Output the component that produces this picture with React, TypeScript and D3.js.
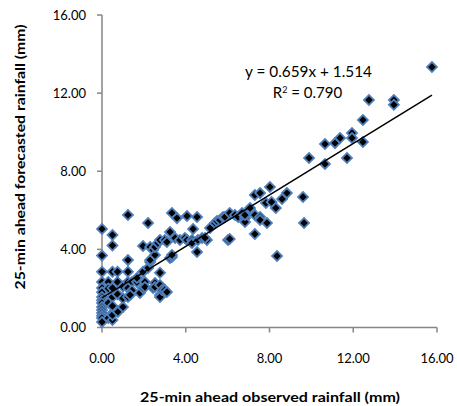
import React from "react";
import * as d3 from "d3";

const observed = [
  0, 0, 0, 0, 0, 0, 0, 0, 0, 0, 0, 0, 0, 0, 0,
  0.3, 0.3, 0.3, 0.3,
  0.5, 0.5, 0.5, 0.5, 0.5, 0.5, 0.5, 0.5, 0.5,
  0.74, 0.74, 0.76, 0.74,
  1.0, 1.0, 1.0,
  1.24, 1.24, 1.24, 1.24, 1.24, 1.24,
  1.43, 1.43, 1.67, 1.67, 1.34, 1.81,
  1.96, 1.96, 1.96, 2.05, 2.05,
  2.2, 2.2, 2.3, 2.3, 2.3, 2.44, 2.44,
  2.53, 2.53, 2.53, 2.53, 2.67,
  2.77, 2.77, 2.77, 2.77, 2.77, 2.87, 3.0, 3.0, 3.1, 3.1,
  3.25, 3.25, 3.34, 3.34, 3.34, 3.49, 3.58, 3.72, 3.96,
  4.06, 4.06, 4.3, 4.3, 4.35, 4.54, 4.54, 4.58, 4.78, 5.01, 4.92,
  5.16, 5.4, 5.49, 5.63, 5.78, 5.87, 6.02, 6.1, 6.1, 6.35, 6.5, 6.69,
  6.83, 6.83, 6.83, 7.07, 7.07, 7.3, 7.3, 7.3, 7.55, 7.55, 7.55,
  7.83, 7.88, 8.02, 8.1, 8.3, 8.36, 8.6, 8.83,
  9.6, 9.65, 9.89, 10.65, 10.65, 11.13, 11.37, 11.7, 11.94, 11.94,
  12.46, 12.46, 12.75, 13.94, 13.94, 15.76,
];

const forecasted = [
  5.04, 3.68, 2.85, 2.33, 2.02, 1.8, 1.56, 1.4, 1.25, 1.05, 0.9, 0.74, 0.6, 0.49, 0.28,
  2.33, 1.25, 0.49, 2.0,
  4.74, 4.2, 2.85, 2.02, 1.56, 0.74, 0.38, 0.64, 1.1,
  2.85, 2.33, 0.8, 1.7,
  1.05, 2.1, 1.5,
  5.76, 3.45, 2.85, 2.33, 2.02, 1.56,
  2.33, 1.9, 2.33, 2.53, 1.66, 1.77,
  4.17, 2.85, 2.02, 2.33, 2.07,
  5.35, 3.05, 4.12, 3.35, 3.45, 2.02, 3.97,
  3.71, 4.12, 2.28, 2.07, 4.33,
  4.48, 2.8, 2.18, 1.66, 1.56, 1.92, 4.48, 1.92, 4.38, 1.82,
  4.89, 3.56, 5.86, 3.61, 3.71, 4.58, 5.6, 4.48, 4.58,
  5.71, 4.48, 4.48, 4.33, 5.04, 5.66, 3.87, 4.48, 4.58, 4.48, 4.58,
  5.09, 5.35, 5.45, 5.5, 5.66, 5.66, 4.48, 5.86, 4.53, 5.76, 5.66, 5.86,
  5.6, 5.4, 5.76, 6.02, 6.12, 6.78, 4.79, 5.76, 6.88, 5.66, 5.5,
  6.37, 5.35, 7.19, 6.43, 6.12, 3.66, 6.58, 6.88,
  6.68, 5.35, 8.68, 9.39, 8.37, 9.44, 9.7, 8.68, 9.96, 9.7,
  10.62, 9.5, 11.65, 11.65, 11.4, 13.34,
];

const xTicks = [0, 4, 8, 12, 16];
const yTicks = [0, 4, 8, 12, 16];
const slope = 0.659;
const intercept = 1.514;
const equationLabel = "y = 0.659x + 1.514";
const r2Value = "0.790";
const xTitle = "25-min ahead observed rainfall (mm)";
const yTitle = "25-min ahead forecasted rainfall (mm)";

const W = 457;
const H = 406;

export default function App() {
  const x = d3.scaleLinear().domain([0, 16]).range([102, 437]);
  const y = d3.scaleLinear().domain([0, 16]).range([327.5, 15]);
  const points = observed.map((o, i) => [o, forecasted[i]] as [number, number]);
  const symbolPath = d3.symbol().type(d3.symbolSquare).size(50)() as string;
  const xMin = d3.min(observed) as number;
  const xMax = d3.max(observed) as number;
  const trend = d3
    .line<number>()
    .x((d) => x(d))
    .y((d) => y(slope * d + intercept))([xMin, xMax]) as string;
  const axisColor = "#868686";
  const font = "Lato, 'Open Sans', sans-serif";
  return (
    <svg
      width={W}
      height={H}
      style={{ position: "absolute", left: 0, top: 0, background: "#fff" }}
      fontFamily={font}
    >
      <rect width={W} height={H} fill="#fff" />
      {/* axes */}
      <line x1={x(0)} x2={x(0)} y1={y(16)} y2={y(0)} stroke={axisColor} strokeWidth={1.5} />
      <line x1={x(0)} x2={x(16)} y1={y(0)} y2={y(0)} stroke={axisColor} strokeWidth={1.5} />
      {yTicks.map((t) => (
        <g key={"y" + t}>
          <line x1={x(0) - 5} x2={x(0)} y1={y(t)} y2={y(t)} stroke={axisColor} strokeWidth={1.5} />
          <text x={86} y={y(t)} dy="0.35em" textAnchor="end" fontSize={13} fill="#000">
            {t.toFixed(2)}
          </text>
        </g>
      ))}
      {xTicks.map((t) => (
        <g key={"x" + t}>
          <line x1={x(t)} x2={x(t)} y1={y(0)} y2={y(0) + 5} stroke={axisColor} strokeWidth={1.5} />
          <text x={x(t)} y={358} dy="0.35em" textAnchor="middle" fontSize={13} fill="#000">
            {t.toFixed(2)}
          </text>
        </g>
      ))}
      {/* points */}
      {points.map(([o, f], i) => (
        <path
          key={i}
          d={symbolPath}
          transform={`translate(${x(o)},${y(f)}) rotate(45)`}
          fill="#000"
          stroke="#4F81BD"
          strokeWidth={1.8}
        />
      ))}
      {/* trendline */}
      <path d={trend} fill="none" stroke="#000" strokeWidth={1.5} />
      {/* equation */}
      <text x={308.5} y={72} dy="0.35em" textAnchor="middle" fontSize={15} fill="#000" textLength={127} lengthAdjust="spacingAndGlyphs">
        {equationLabel}
      </text>
      <text x={307.5} y={93} dy="0.35em" textAnchor="middle" fontSize={15} fill="#000">
        R<tspan baselineShift="super" fontSize={9}>2</tspan> = {r2Value}
      </text>
      {/* titles */}
      <text x={270} y={397} dy="0.35em" textAnchor="middle" fontSize={13} fontWeight="bold" fill="#000" textLength={260} lengthAdjust="spacingAndGlyphs">
        {xTitle}
      </text>
      <text
        transform={`translate(20,157) rotate(-90)`}
        dy="0.35em"
        textAnchor="middle"
        fontSize={13}
        fontWeight="bold"
        fill="#000"
        textLength={265}
        lengthAdjust="spacingAndGlyphs"
      >
        {yTitle}
      </text>
    </svg>
  );
}
